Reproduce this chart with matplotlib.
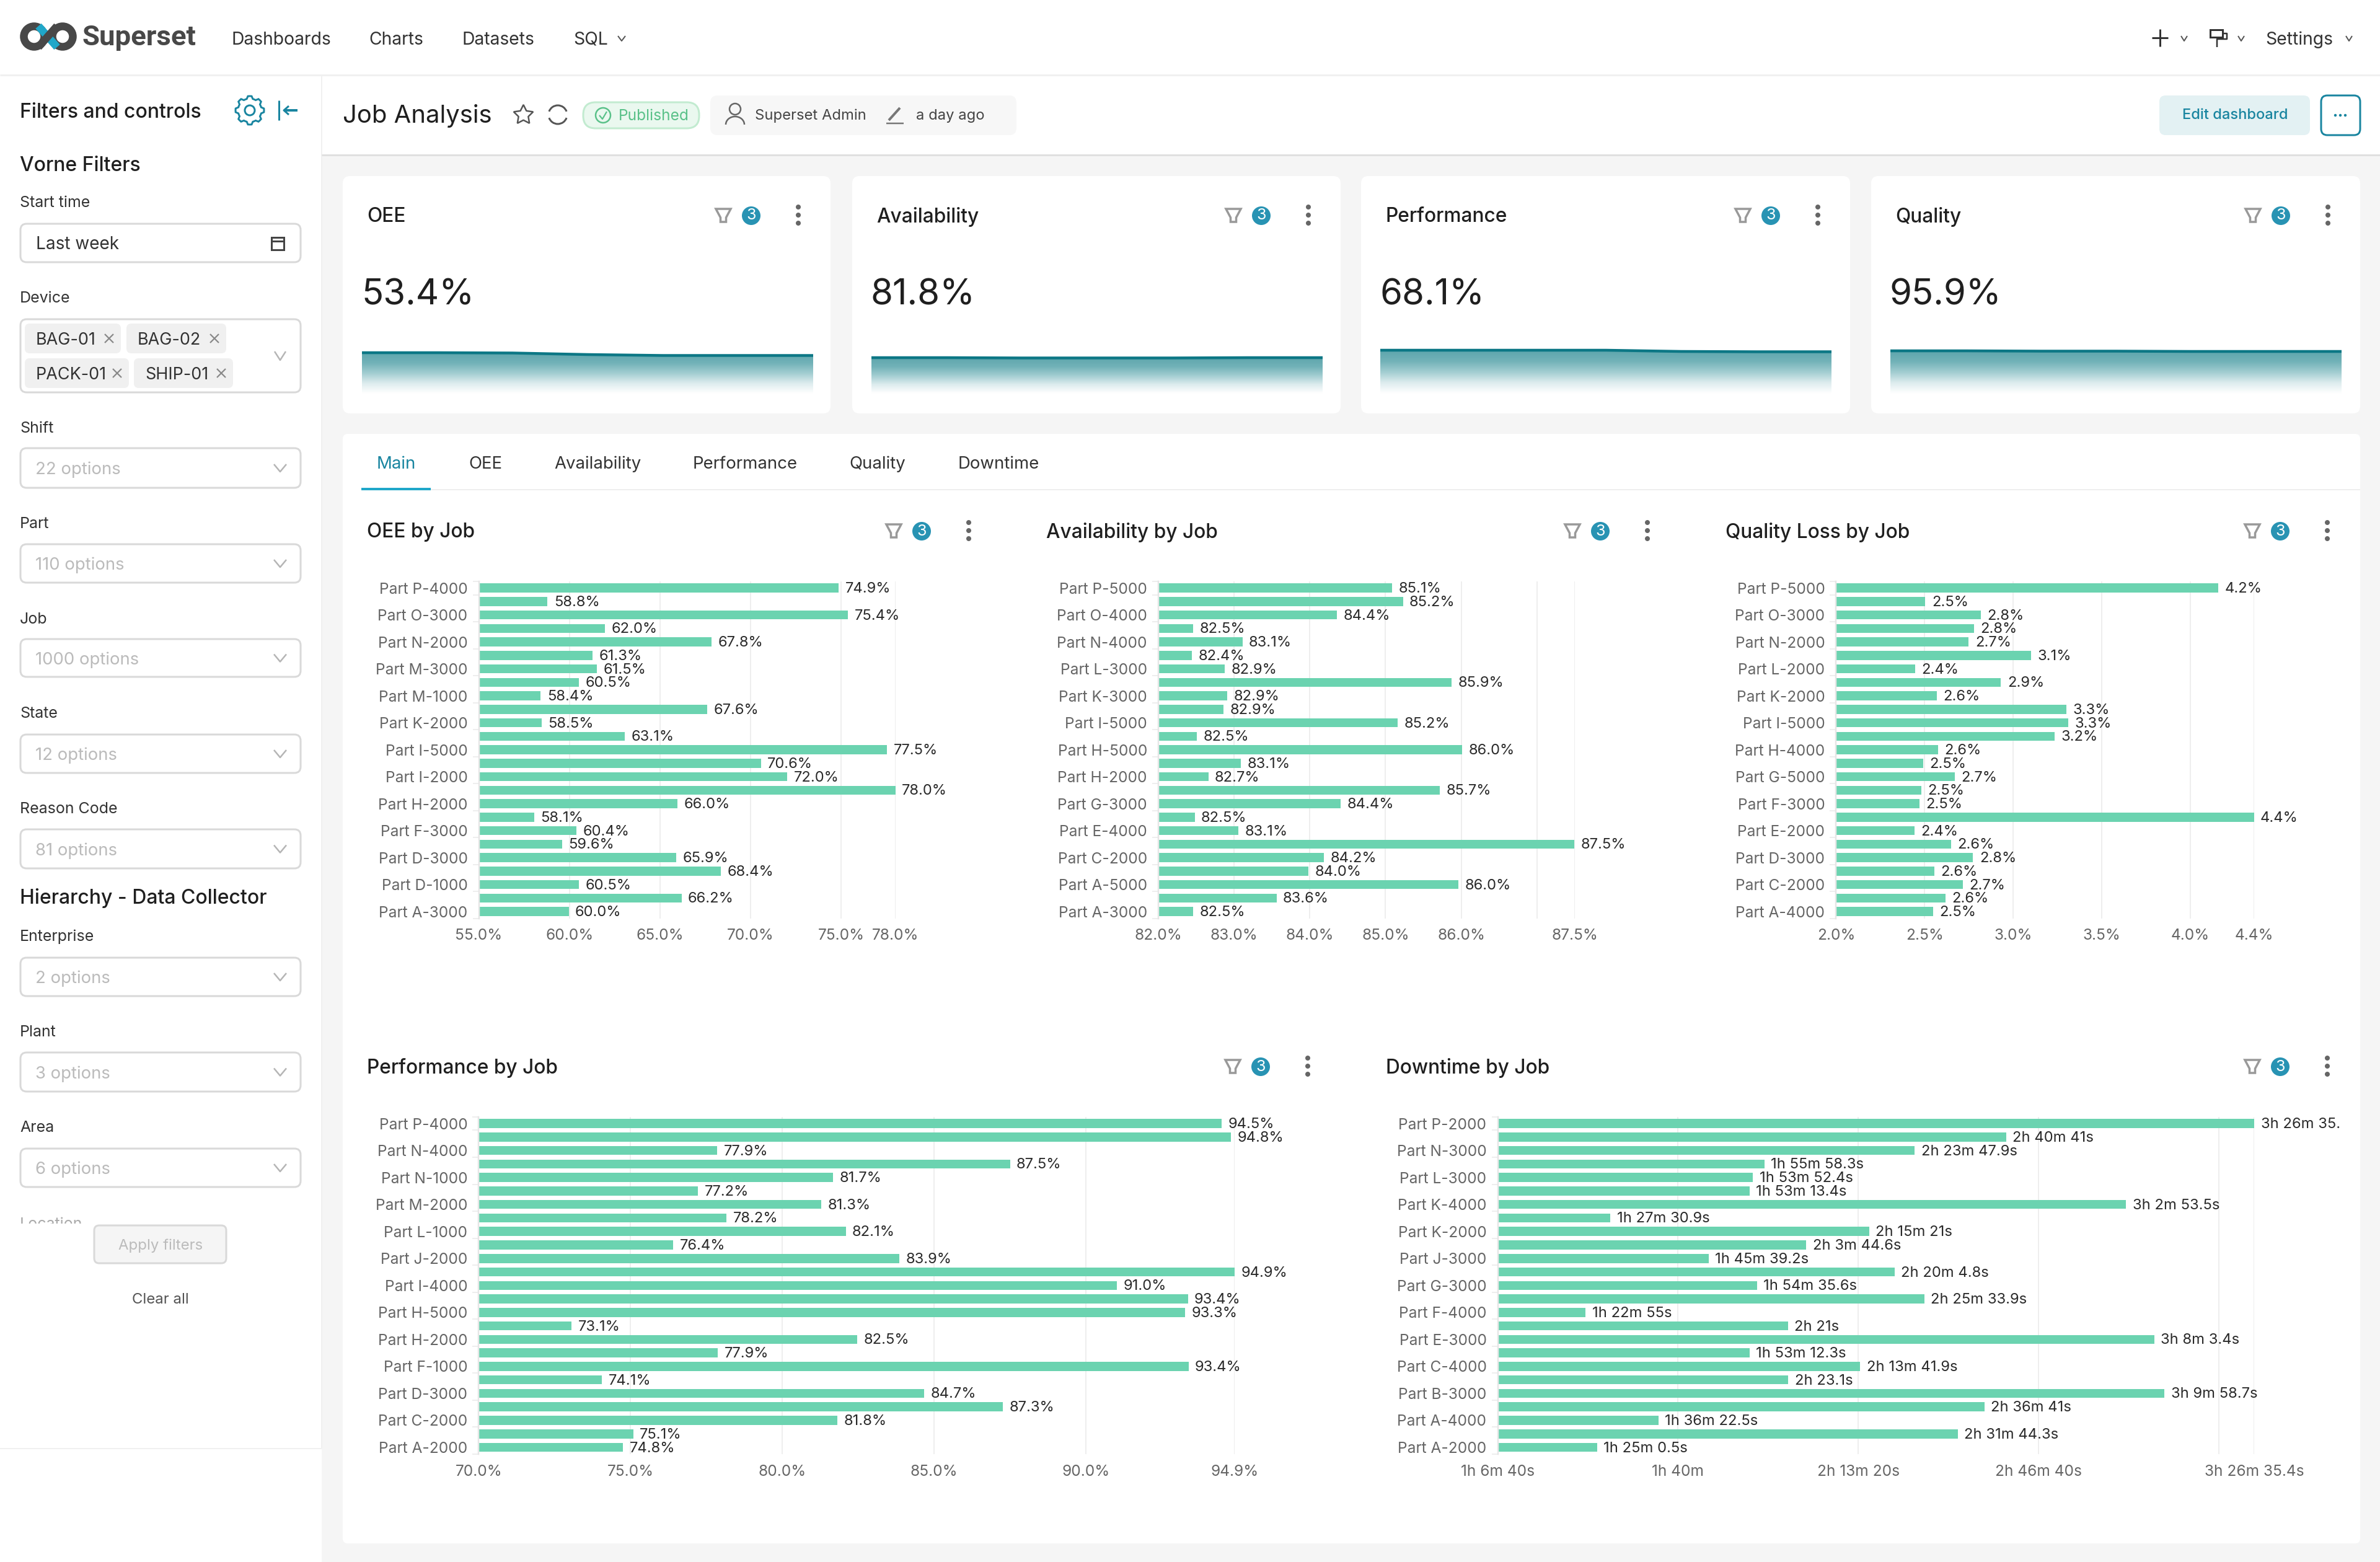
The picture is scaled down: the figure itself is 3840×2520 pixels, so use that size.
import numpy as np
import matplotlib
matplotlib.use("Agg")
import matplotlib.pyplot as plt
from matplotlib.patches import FancyBboxPatch, Rectangle, Circle, Arc, Polygon
from matplotlib.colors import LinearSegmentedColormap
from matplotlib.transforms import Bbox

plt.rcParams['font.family'] = ['Inter', 'DejaVu Sans']

W, H = 3840, 2520
BAR = '#6BD3B0'
TEAL = '#1985A0'
BADGE = '#2893B3'

# ---------- data ----------
oee_jobs = ['Part P-4000', 'Part O-3000', 'Part N-2000', 'Part M-3000', 'Part M-1000', 'Part K-2000', 'Part I-5000',
            'Part I-2000', 'Part H-2000', 'Part F-3000', 'Part D-3000', 'Part D-1000', 'Part A-3000']
oee_vals = [74.88, 58.79, 75.38, 61.96, 67.85, 61.27, 61.51, 60.52, 58.41, 67.6, 58.46, 63.06, 77.54, 70.58, 72.04,
            78.0, 65.97, 58.06, 60.38, 59.59, 65.9, 68.37, 60.52, 66.19, 59.96]
oee_ticks = [55, 60, 65, 70, 75, 78]

avail_jobs = ['Part P-5000', 'Part O-4000', 'Part N-4000', 'Part L-3000', 'Part K-3000', 'Part I-5000', 'Part H-5000',
              'Part H-2000', 'Part G-3000', 'Part E-4000', 'Part C-2000', 'Part A-5000', 'Part A-3000']
avail_vals = [85.09, 85.23, 84.36, 82.46, 83.11, 82.44, 82.88, 85.87, 82.91, 82.86, 85.16, 82.51, 86.01, 83.09, 82.66,
              85.72, 84.41, 82.48, 83.06, 87.49, 84.19, 83.98, 85.96, 83.56, 82.46]
avail_ticks = [82, 83, 84, 85, 86, 87, 87.5]

qual_jobs = ['Part P-5000', 'Part O-3000', 'Part N-2000', 'Part L-2000', 'Part K-2000', 'Part I-5000', 'Part H-4000',
             'Part G-5000', 'Part F-3000', 'Part E-2000', 'Part D-3000', 'Part C-2000', 'Part A-4000']
qual_vals = [4.16, 2.504, 2.818, 2.779, 2.749, 3.10, 2.447, 2.931, 2.568, 3.302, 3.312, 3.236, 2.577, 2.491, 2.671,
             2.482, 2.472, 4.36, 2.442, 2.649, 2.774, 2.555, 2.717, 2.619, 2.549]
qual_ticks = [2.0, 2.5, 3.0, 3.5, 4.0, 4.36]

perf_jobs = ['Part P-4000', 'Part N-4000', 'Part N-1000', 'Part M-2000', 'Part L-1000', 'Part J-2000', 'Part I-4000',
             'Part H-5000', 'Part H-2000', 'Part F-1000', 'Part D-3000', 'Part C-2000', 'Part A-2000']
perf_vals = [94.47, 94.77, 77.86, 87.5, 81.67, 77.22, 81.28, 78.16, 82.09, 76.41, 83.86, 94.9, 91.03, 93.36, 93.27,
             73.06, 82.46, 77.88, 93.38, 74.06, 84.68, 87.26, 81.82, 75.09, 74.76]
perf_ticks = [70, 75, 80, 85, 90, 94.9]

down_jobs = ['Part P-2000', 'Part N-3000', 'Part L-3000', 'Part K-4000', 'Part K-2000', 'Part J-3000', 'Part G-3000',
             'Part F-4000', 'Part E-3000', 'Part C-4000', 'Part B-3000', 'Part A-4000', 'Part A-2000']
down_secs = [12395.4, 9641, 8627.9, 6958.3, 6832.4, 6793.4, 10973.5, 5250.9, 8121, 7424.6, 6339.2, 8404.8, 6875.6,
             8733.9, 4975, 7221, 11283.4, 6792.3, 8021.9, 7223.1, 11398.7, 9401, 5782.5, 9104.3, 5100.5]
down_ticks = [4000, 6000, 8000, 10000, 12000, 12395.4]

kpi_titles = ['OEE', 'Availability', 'Performance', 'Quality']
kpi_values = ['53.4%', '81.8%', '68.1%', '95.9%']
spark_oee = [54.0, 54.0, 53.9, 53.4, 53.1, 53.1, 53.1]
spark_avail = [81.9, 81.9, 81.8, 81.8, 81.8, 81.9, 81.9]
spark_perf = [68.4, 68.4, 68.4, 68.4, 68.0, 67.9, 67.9]
spark_qual = [96.1, 96.1, 96.0, 96.0, 95.9, 95.9, 95.9]

tab_names = ['Main', 'OEE', 'Availability', 'Performance', 'Quality', 'Downtime']
nav_items = ['Dashboards', 'Charts', 'Datasets', 'SQL']
device_tags = ['BAG-01', 'BAG-02', 'PACK-01', 'SHIP-01']
filter_labels = ['Shift', 'Part', 'Job', 'State', 'Reason Code', 'Enterprise', 'Plant', 'Area']
filter_options = ['22 options', '110 options', '1000 options', '12 options', '81 options', '2 options', '3 options',
                  '6 options']

# ---------- canvas ----------
fig = plt.figure(figsize=(W / 100, H / 100), dpi=100, facecolor='white')
ui = fig.add_axes([0, 0, 1, 1], zorder=0)
ui.set_xlim(0, W)
ui.set_ylim(H, 0)
ui.axis('off')


def pt(px):
    return px * 0.72


def T(x, y, s, size, color='#1f1f1f', ha='left', va='center', weight='normal', family=None, **kw):
    if family:
        kw['family'] = family
    return ui.text(x, y + 3, s, fontsize=pt(size), color=color, ha=ha, va=va, fontweight=weight, **kw)


def box(x0, y0, x1, y1, r=10, fc='white', ec='none', lw=0, z=1):
    p = FancyBboxPatch((x0, y0), x1 - x0, y1 - y0, boxstyle=f'round,pad=0,rounding_size={r}',
                       fc=fc, ec=ec, lw=pt(lw), zorder=z)
    ui.add_patch(p)
    return p


def rect(x0, y0, x1, y1, fc, z=0.5):
    ui.add_patch(Rectangle((x0, y0), x1 - x0, y1 - y0, fc=fc, ec='none', zorder=z))


def line(xs, ys, color, lw, z=3, **kw):
    ui.plot(xs, ys, color=color, lw=pt(lw), zorder=z, solid_capstyle=kw.pop('cap', 'butt'), **kw)


def chevron(cx, cy, w, h, color='#b5b5b5', lw=2.5):
    line([cx - w, cx, cx + w], [cy - h, cy + h, cy - h], color, lw)


def icons(fx, cy):
    pts = np.array([(-12, -10), (12, -10), (4.5, 4), (4.5, 11), (-4.5, 11), (-4.5, 4)]) + (fx, cy)
    ui.add_patch(Polygon(pts, closed=True, fc='white', ec='#999999', lw=pt(3.5), zorder=3))
    ui.add_patch(Circle((fx + 45, cy + 1), 15, fc=BADGE, ec='none', zorder=3))
    ui.text(fx + 45, cy + 1, '3', fontsize=pt(25), color='white', ha='center', va='center', zorder=4)
    for dy in (-13, 0, 13):
        ui.add_patch(Circle((fx + 121, cy + dy), 4, fc='#666666', ec='none', zorder=3))


# backgrounds
rect(519, 250, W, H, '#F5F5F5')
line([0, W], [120.5, 120.5], '#F0F0F0', 3)
line([519, 519], [120, 2337], '#F0F0F0', 2)
line([519, W], [250, 250], '#E0E0E0', 3)
line([0, 519], [2337, 2337], '#F0F0F0', 2)

# header / logo
for c in (55, 101):
    ui.add_patch(Circle((c, 59), 16.5, fc='none', ec='#484848', lw=pt(12.5), zorder=2))
line([62, 92], [42, 76], '#20A7C9', 12.5, z=2.5)
line([62, 92], [76, 42], '#484848', 12.5, z=2.6)
T(133, 58, 'Superset', 45.5, '#484848', weight='bold', family='Roboto')
for x, s in zip([373, 595, 745, 925], nav_items):
    T(x, 61, s, 28.3, '#333333')
chevron(1003, 62, 6, 4, '#555555', 2)
line([3485, 3485], [47, 75], '#333333', 3)
line([3472, 3498], [61, 61], '#333333', 3)
chevron(3524, 62, 5, 4, '#555555', 2)
ui.add_patch(Rectangle((3566, 48), 20, 12, fc='white', ec='#333333', lw=pt(3), zorder=3))
line([3586, 3593, 3593, 3577, 3577], [54, 54, 63, 63, 76], '#333333', 2.5)
chevron(3616, 62, 5, 4, '#555555', 2)
T(3655, 61, 'Settings', 28.3, '#333333')
chevron(3790, 62, 5, 4, '#555555', 2)

# sidebar
T(32, 178, 'Filters and controls', 32, '#1f1f1f', weight='medium')
angs = np.linspace(0, 2 * np.pi, 49)
rads = 19 + 4 * (np.cos(8 * angs) > 0)
ui.add_patch(Polygon(np.c_[403 + rads * np.cos(angs), 178 + rads * np.sin(angs)], closed=True, fc='white', ec=TEAL,
                     lw=pt(3), zorder=3))
ui.add_patch(Circle((403, 178), 8, fc='white', ec=TEAL, lw=pt(3), zorder=4))
line([450, 450], [162, 194], TEAL, 3)
line([458, 480], [178, 178], TEAL, 4)
line([466, 458, 466], [171, 178, 185], TEAL, 3)
T(32, 264, 'Vorne Filters', 32, '#1f1f1f', weight='medium')
T(32, 325, 'Start time', 25, '#333333')
box(33, 361, 485, 423, fc='white', ec='#D9D9D9', lw=3)
T(58, 392, 'Last week', 28, '#333333')
ui.add_patch(Rectangle((438, 383), 20, 20, fc='white', ec='#444444', lw=pt(3), zorder=3))
line([438, 458], [389, 389], '#444444', 3, z=4)
T(32, 479, 'Device', 25, '#333333')
box(33, 515, 485, 633, fc='white', ec='#D9D9D9', lw=3)
tag_boxes = [(40, 195, 522, 570), (204, 365, 522, 570), (40, 208, 578, 626), (216, 376, 578, 626)]
for s, (x0, x1, y0, y1) in zip(device_tags, tag_boxes):
    box(x0, y0, x1, y1, r=8, fc='#F0F0F0', z=2)
    T(x0 + 18, (y0 + y1) / 2, s, 27, '#333333', zorder=3)
    cx = x1 - 19
    cy = (y0 + y1) / 2
    line([cx - 7, cx + 7], [cy - 7, cy + 7], '#888888', 2.2)
    line([cx - 7, cx + 7], [cy + 7, cy - 7], '#888888', 2.2)
chevron(452, 574, 9, 7)

label_y = [689, 842, 996, 1148, 1302, 1508, 1662, 1817]
box_y = [(723, 787), (878, 940), (1031, 1092), (1185, 1247), (1338, 1401), (1545, 1607), (1698, 1761), (1853, 1915)]
for s, o, ly, (y0, y1) in zip(filter_labels, filter_options, label_y, box_y):
    T(32, ly, s, 25, '#333333')
    box(33, y0, 485, y1, fc='white', ec='#D9D9D9', lw=3)
    T(57, (y0 + y1) / 2, o, 27.5, '#BBBBBB')
    chevron(452, (y0 + y1) / 2, 10, 6)
T(32, 1446, 'Hierarchy - Data Collector', 32, '#1f1f1f', weight='medium')
loc = T(32, 1973, 'Location', 25, '#AAAAAA')
loc.set_clip_box(Bbox([[0, H - 1974], [519, H]]))
loc.set_clip_on(True)
box(152, 1977, 365, 2038, r=8, fc='#F5F5F5', ec='#D9D9D9', lw=3)
T(259, 2007, 'Apply filters', 24, '#BBBBBB', ha='center')
T(259, 2094, 'Clear all', 24, '#555555', ha='center')

# dashboard header
T(553, 184, 'Job Analysis', 40, '#1f1f1f')
ui.plot([844], [185], marker=(5, 1, 0), ms=pt(33), mfc='white', mec='#555555', mew=pt(2.5), zorder=3)
ui.add_patch(Arc((900, 185), 30, 30, theta1=20, theta2=160, ec='#555555', lw=pt(3), zorder=3))
ui.add_patch(Arc((900, 185), 30, 30, theta1=200, theta2=340, ec='#555555', lw=pt(3), zorder=3))
box(941, 165, 1128, 207, r=20, fc='#EAF8EF', ec='#C2EBD0', lw=3)
ui.add_patch(Circle((973, 186), 12, fc='none', ec='#5AC189', lw=pt(2.5), zorder=3))
line([967, 972, 979], [186, 192, 180], '#5AC189', 2.2)
T(998, 184, 'Published', 24.5, '#5AC189')
box(1146, 154, 1640, 218, r=12, fc='#F7F7F7')
ui.add_patch(Circle((1186, 176), 9, fc='none', ec='#666666', lw=pt(2.5), zorder=3))
ui.add_patch(Arc((1186, 201), 30, 26, theta1=180, theta2=360, ec='#666666', lw=pt(2.5), zorder=3))
T(1218, 184, 'Superset Admin', 23.8, '#444444')
line([1434, 1452], [194, 174], '#777777', 4)
line([1430, 1458], [199, 199], '#777777', 2.5)
T(1478, 184, 'a day ago', 23.8, '#444444')
box(3484, 154, 3727, 218, r=10, fc='#E3F1F3')
T(3606, 183, 'Edit dashboard', 23.6, TEAL, ha='center', weight='medium', zorder=3)
box(3745, 154, 3808, 218, r=10, fc='white', ec=TEAL, lw=3)
for dx in (-8, 0, 8):
    ui.add_patch(Circle((3776 + dx, 186), 2.2, fc=TEAL, ec='none', zorder=3))

# KPI cards
card_x = [(553, 1340), (1375, 2163), (2196, 2985), (3019, 3808)]
sparks = [spark_oee, spark_avail, spark_perf, spark_qual]
spark_lims = [(40.8, 56.8), (70.3, 86.3), (54.4, 70.4), (82.3, 98.3)]
grad_cmap = LinearSegmentedColormap.from_list('g', ['#FFFFFF', '#DDECEE', '#A2CDD1', '#72B2B8', '#5EA6AD'])
for (x0, x1), title, val, sp, lim in zip(card_x, kpi_titles, kpi_values, sparks, spark_lims):
    box(x0, 284, x1, 667, r=12, fc='white')
    T(x0 + 39, 347, title, 31.7, '#1f1f1f', weight='medium')
    T(x0 + 30, 473, val, 58, '#1f1f1f')
    icons(x1 - 173, 347)
    ax = fig.add_axes([(x0 + 31) / W, 1 - 635 / H, 728 / W, 80 / H], zorder=2)
    ax.axis('off')
    ax.patch.set_alpha(0)
    xs = np.arange(len(sp))
    ax.set_xlim(0, len(sp) - 1)
    ax.set_ylim(*lim)
    poly = ax.fill_between(xs, sp, lim[0], color='none')
    im = ax.imshow(np.linspace(1, 0, 100).reshape(-1, 1), extent=[0, len(sp) - 1, lim[0], max(sp)], aspect='auto',
                   cmap=grad_cmap, vmin=0, vmax=1, zorder=1)
    ax.set_xlim(0, len(sp) - 1)
    ax.set_ylim(*lim)
    im.set_clip_path(poly.get_paths()[0], transform=ax.transData)
    ax.plot(xs, sp, color='#0C7785', lw=pt(4.5), zorder=2, solid_capstyle='butt')

# tabs panel
box(553, 700, 3808, 2490, r=8, fc='white')
line([585, 3808], [790, 790], '#EEEEEE', 2)
line([583, 695], [789, 789], '#20A7C9', 4)
for x, s in zip([639, 783, 964, 1202, 1416, 1611], tab_names):
    T(x, 746, s, 27.6, TEAL if s == 'Main' else '#333333', ha='center')

# ---------- charts ----------
LABEL_CLIP = Bbox([[0, 0], [3776, H]])


def pct(v):
    return f'{v:.1f}%'


def hms(sec):
    h = int(sec // 3600)
    m = int((sec - h * 3600) // 60)
    s = round(sec - h * 3600 - m * 60, 1)
    out = []
    if h:
        out.append(f'{h}h')
    if m:
        out.append(f'{m}m')
    if s:
        out.append(f'{s:g}s')
    return ' '.join(out)


def bar_chart(x0, x1, y0, y1, jobs, vals, ticks, fmt, hidden=()):
    ax = fig.add_axes([x0 / W, 1 - y1 / H, (x1 - x0) / W, (y1 - y0) / H], zorder=2)
    ax.patch.set_alpha(0)
    n = len(vals)
    ys = np.arange(n)
    ax.set_xlim(ticks[0], ticks[-1])
    ax.set_ylim(n - 0.5, -0.5)
    ax.barh(ys, np.array(vals) - ticks[0], left=ticks[0], height=0.667, color=BAR, zorder=2)
    ax.set_xticks(ticks)
    ax.set_xticklabels(['' if t in hidden else fmt(t) for t in ticks])
    ax.set_yticks(ys[::2])
    ax.set_yticklabels(jobs)
    ax.set_yticks([-0.5] + list(ys[::2] + 0.5), minor=True)
    ax.tick_params(axis='x', length=0, pad=pt(17), labelsize=pt(24.5), labelcolor='#666666')
    ax.tick_params(axis='y', which='major', length=0, pad=pt(18), labelsize=pt(24.5), labelcolor='#666666')
    ax.tick_params(axis='y', which='minor', length=pt(10), width=pt(2), color='#EEEEEE')
    ax.grid(axis='x', color='#EEEEEE', lw=pt(2))
    ax.set_axisbelow(True)
    for k in ('top', 'right', 'bottom'):
        ax.spines[k].set_visible(False)
    ax.spines['left'].set_color('#E6E6E6')
    ax.spines['left'].set_linewidth(pt(2.5))
    for y, v in zip(ys, vals):
        t = ax.annotate(fmt(v), xy=(v, y), xytext=(pt(10.5), pt(-1.5)), textcoords='offset points', va='center',
                        ha='left', fontsize=pt(23.8), color='#2a2a2a', annotation_clip=False)
        t.set_clip_box(LABEL_CLIP)
        t.set_clip_on(True)
    return ax


bar_chart(772.6, 1444.6, 937.8, 1481.5, oee_jobs, oee_vals, oee_ticks, pct)
bar_chart(1868.9, 2540.9, 937.8, 1481.5, avail_jobs, avail_vals, avail_ticks, pct, hidden=(87,))
bar_chart(2962.4, 3636.5, 937.8, 1481.5, qual_jobs, qual_vals, qual_ticks, pct)
bar_chart(772.3, 1992, 1801.7, 2345.9, perf_jobs, perf_vals, perf_ticks, pct)
bar_chart(2416.5, 3637.2, 1801.7, 2345.9, down_jobs, down_secs, down_ticks, hms, hidden=(12000,))

chart_heads = [(592, 857, 'OEE by Job', 1442), (1688, 857, 'Availability by Job', 2537),
               (2784, 857, 'Quality Loss by Job', 3634), (592, 1721, 'Performance by Job', 1989),
               (2236, 1721, 'Downtime by Job', 3634)]
for x, y, s, fx in chart_heads:
    T(x, y - 1, s, 31.7, '#1f1f1f', weight='medium')
    icons(fx, y - 1)

fig.savefig('out.png', dpi=100)
